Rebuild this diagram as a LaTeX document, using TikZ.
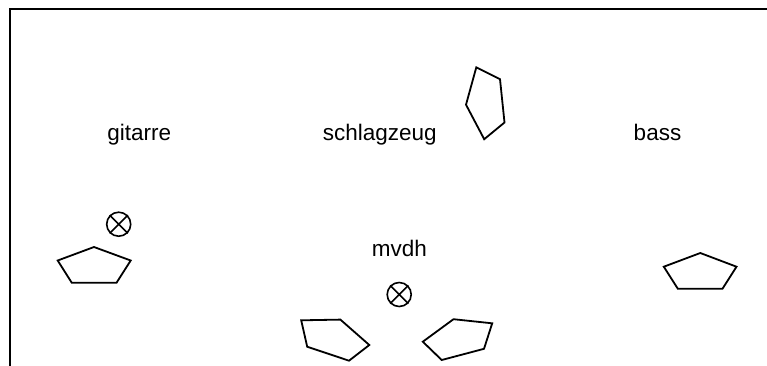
\documentclass[tikz,border=0pt]{standalone}
\usepackage{fontspec}
\setmainfont{Liberation Sans}
\begin{document}
\begin{tikzpicture}[x=1pt,y=-1pt,
  lbl/.style={inner sep=0pt,anchor=base,font=\fontsize{22.5}{27}\selectfont},
  penta/.style={draw,line width=1.8pt,line join=miter},
  mic/.style={draw,circle,line width=1.6pt,minimum size=24pt,inner sep=0pt},
  frame/.style={line width=2pt}]
\useasboundingbox (0,0) rectangle (767,365);
% frame
\coordinate (fbl) at (10,366);
\coordinate (ftl) at (10,9);
\coordinate (ftr) at (768,9);
\draw[frame] (fbl) -- (ftl) -- (ftr);
% labels
\node[lbl] (gitarre) at (139.2,140) {gitarre};
\node[lbl] (schlagzeug) at (379.7,140.5) {schlagzeug};
\node[lbl] (bass) at (657.5,140) {bass};
\node[lbl] (mvdh) at (399.5,256.5) {mvdh};
% microphones
\node[mic] (m1) at (118.7,224.2) {};
\draw[line width=1.6pt] (m1.north west) -- (m1.south east) (m1.north east) -- (m1.south west);
\node[mic] (m2) at (399.2,294.5) {};
\draw[line width=1.6pt] (m2.north west) -- (m2.south east) (m2.north east) -- (m2.south west);
% pentagons
\draw[penta] (94,247) -- (130.7,260.5) -- (116.5,282.8) -- (71.8,282.8) -- (57.7,260.5) -- cycle;
\draw[penta] (700.3,253) -- (736.5,266.7) -- (722.5,288.7) -- (677.8,288.7) -- (663.8,266.7) -- cycle;
\draw[penta] (476.3,67.3) -- (500,79.2) -- (504.5,122.5) -- (484.2,139.2) -- (466,104.7) -- cycle;
\draw[penta] (301.2,320.3) -- (340.4,319.6) -- (369.3,345) -- (349,360.7) -- (307.2,346.7) -- cycle;
\draw[penta] (422.8,341.7) -- (453.5,319.2) -- (492.2,323.3) -- (484,348.8) -- (441.7,360) -- cycle;
\end{tikzpicture}
\end{document}
